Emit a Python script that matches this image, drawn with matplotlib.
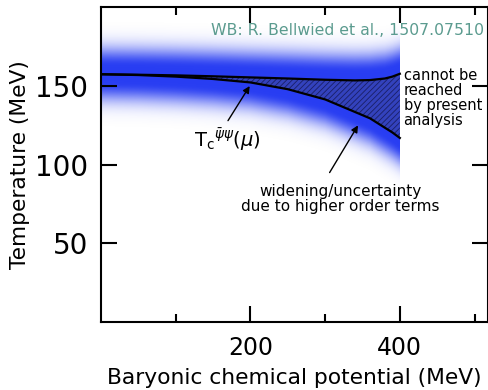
import numpy as np
import matplotlib
matplotlib.use("Agg")
import matplotlib.pyplot as plt

# ---- data ----
mu_pts = [0, 50, 100, 150, 200, 250, 300, 340, 360, 380, 390, 400]
t_upper = [157.5, 157.2, 156.8, 156.2, 155.5, 154.8, 154.0, 153.6, 153.8, 154.8, 156.0, 157.8]
t_lower = [157.5, 157.0, 156.0, 154.5, 152.3, 148.0, 141.5, 133.5, 129.5, 123.5, 120.5, 117.0]
x_major = [200, 400]
x_minor = [100, 300, 500]
y_major = [50, 100, 150]

plt.rcParams['hatch.linewidth'] = 0.6

fig = plt.figure(figsize=(4.89, 3.90), dpi=100)
ax = fig.add_axes([101/489, 1-322/390, (488-101)/489, (322-7.4)/390])
ax.set_xlim(0, 518)
ax.set_ylim(0, 200)

# blue gradient band around the curves
mu_grid = np.linspace(0, 400, 401)
T_grid = np.linspace(80, 198, 470)
U = np.interp(mu_grid, mu_pts, t_upper)
L = np.interp(mu_grid, mu_pts, t_lower)
MM, TT = np.meshgrid(mu_grid, T_grid)
UU = np.broadcast_to(U, MM.shape)
LL = np.broadcast_to(L, MM.shape)
d = np.where(TT > UU, TT - UU, np.where(TT < LL, LL - TT, 0.0))
alpha = np.exp(-(np.maximum(d - 5.0, 0) / 12.0) ** 2)
img = np.zeros(MM.shape + (4,))
img[..., 0] = 0.16
img[..., 1] = 0.24
img[..., 2] = 0.95
img[..., 3] = alpha
ax.imshow(img, extent=[0, 400, 80, 198], origin='lower', aspect='auto',
          interpolation='bilinear', zorder=1)

# hatched region between the curves
ax.fill_between(mu_pts, t_lower, t_upper, facecolor=(0.20, 0.26, 0.74),
                edgecolor=(0.10, 0.12, 0.40), hatch='//////', linewidth=0, zorder=2)
ax.plot(mu_pts, t_upper, color='black', lw=1.6, zorder=3)
ax.plot(mu_pts, t_lower, color='black', lw=1.6, zorder=3)

# annotations
ax.text(169, 116, r'$\mathregular{T_c}^{\bar{\psi}\psi}(\mu)$', fontsize=14,
        ha='center', va='center', zorder=4)
ax.annotate('', xy=(199, 150), xytext=(170, 128),
            arrowprops=dict(arrowstyle='-|>', color='black', lw=1.0,
                            mutation_scale=10, shrinkA=0, shrinkB=0))
ax.annotate('', xy=(344, 125), xytext=(306, 95),
            arrowprops=dict(arrowstyle='-|>', color='black', lw=1.0,
                            mutation_scale=10, shrinkA=0, shrinkB=0))
ax.text(320, 78, 'widening/uncertainty\ndue to higher order terms', fontsize=11,
        ha='center', va='center', linespacing=1.0)
ax.text(405, 161.5, 'cannot be\nreached\nby present\nanalysis', fontsize=10.5,
        ha='left', va='top', linespacing=1.0)
ax.text(512, 185.5, 'WB: R. Bellwied et al., 1507.07510', fontsize=11.3,
        color='#5b9b8f', ha='right', va='center')

# axes styling
for s in ax.spines.values():
    s.set_linewidth(1.5)
ax.set_xticks(x_major)
ax.set_xticks(x_minor, minor=True)
ax.set_yticks(y_major)
ax.tick_params(which='both', direction='in', top=True, right=True, width=1.5)
ax.tick_params(which='major', length=11.5)
ax.tick_params(which='minor', length=5.5)
ax.tick_params(axis='x', labelsize=17, pad=10)
ax.tick_params(axis='y', labelsize=20, pad=9)
ax.set_xlabel('Baryonic chemical potential (MeV)', fontsize=15.7, labelpad=6)
ax.set_ylabel('Temperature (MeV)', fontsize=15.7, labelpad=4)

fig.savefig('out.png', dpi=100)
